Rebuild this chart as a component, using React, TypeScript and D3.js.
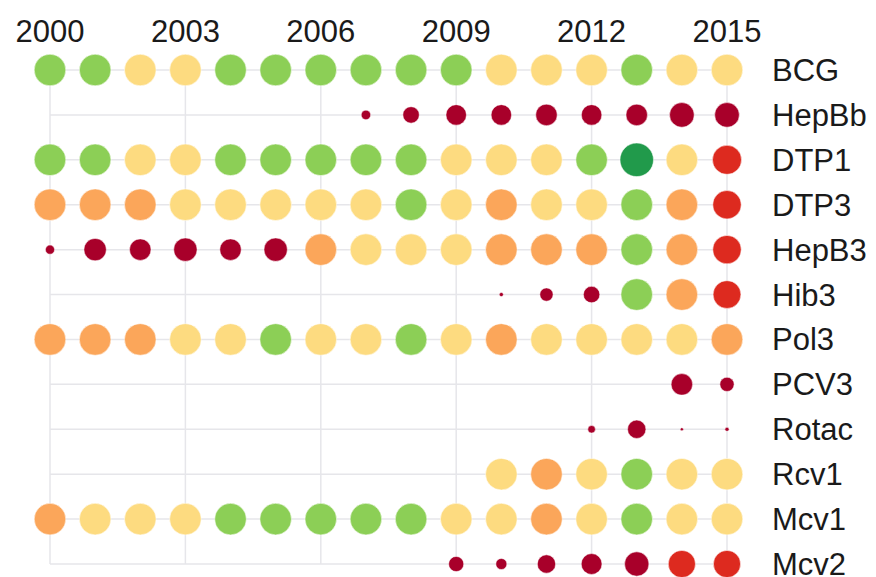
import React from "react";
import * as d3 from "d3";

const years = d3.range(2000, 2016);
const tickYears = [2000, 2003, 2006, 2009, 2012, 2015];
const vaccines = ["BCG", "HepBb", "DTP1", "DTP3", "HepB3", "Hib3", "Pol3", "PCV3", "Rotac", "Rcv1", "Mcv1", "Mcv2"];

// colour class per vaccine per year (2000..2015); "" = no data
const colorCodes: string[][] = [
  ["g", "g", "y", "y", "g", "g", "g", "g", "g", "g", "y", "y", "y", "g", "y", "y"],
  ["", "", "", "", "", "", "", "dr", "dr", "dr", "dr", "dr", "dr", "dr", "dr", "dr"],
  ["g", "g", "y", "y", "g", "g", "g", "g", "g", "y", "y", "y", "g", "G", "y", "r"],
  ["o", "o", "o", "y", "y", "y", "y", "y", "g", "y", "o", "y", "y", "g", "o", "r"],
  ["dr", "dr", "dr", "dr", "dr", "dr", "o", "y", "y", "y", "o", "o", "o", "g", "o", "r"],
  ["", "", "", "", "", "", "", "", "", "", "dr", "dr", "dr", "g", "o", "r"],
  ["o", "o", "o", "y", "y", "g", "y", "y", "g", "y", "o", "y", "y", "y", "y", "o"],
  ["", "", "", "", "", "", "", "", "", "", "", "", "", "", "dr", "dr"],
  ["", "", "", "", "", "", "", "", "", "", "", "", "dr", "dr", "dr", "dr"],
  ["", "", "", "", "", "", "", "", "", "", "y", "o", "y", "g", "y", "y"],
  ["o", "y", "y", "y", "g", "g", "g", "g", "g", "y", "y", "o", "y", "g", "y", "y"],
  ["", "", "", "", "", "", "", "", "", "dr", "dr", "dr", "dr", "dr", "r", "r"],
];

// relative circle size per vaccine per year; null = no data
const sizeValues: (number | null)[][] = [
  [100, 100, 100, 100, 100, 100, 100, 100, 100, 100, 100, 100, 100, 100, 100, 100],
  [null, null, null, null, null, null, null, 30, 52, 65, 65, 68, 65, 68, 78, 78],
  [100, 100, 100, 100, 100, 100, 100, 100, 100, 100, 100, 100, 100, 106, 100, 92],
  [100, 100, 100, 100, 100, 100, 100, 100, 100, 100, 100, 100, 100, 100, 100, 90],
  [29, 71, 68, 74, 68, 74, 100, 100, 100, 100, 100, 100, 100, 100, 100, 90],
  [null, null, null, null, null, null, null, null, null, null, 13, 42, 52, 100, 100, 88],
  [100, 100, 100, 100, 100, 100, 100, 100, 100, 100, 100, 100, 100, 100, 100, 100],
  [null, null, null, null, null, null, null, null, null, null, null, null, null, null, 68, 45],
  [null, null, null, null, null, null, null, null, null, null, null, null, 24, 58, 10, 13],
  [null, null, null, null, null, null, null, null, null, null, 100, 100, 100, 100, 100, 100],
  [100, 100, 100, 100, 100, 100, 100, 100, 100, 100, 100, 100, 100, 100, 100, 100],
  [null, null, null, null, null, null, null, null, null, 48, 35, 58, 66, 77, 86, 86],
];

const palette: Record<string, string> = {
  dr: "#a8002a",
  r: "#dd2a1f",
  o: "#fba65a",
  y: "#fddb80",
  g: "#8ccf56",
  G: "#219a4b",
};

const W = 876;
const H = 577;
const FONT = "'Liberation Sans', Arial, Helvetica, sans-serif";

export default function App() {
  const x = d3.scaleLinear().domain([2000, 2015]).range([50, 727]);
  const y = d3.scalePoint<string>().domain(vaccines).range([70, 564]);
  const r = d3.scaleLinear().domain([0, 100]).range([0, 15.8]);

  const cells: { key: string; cx: number; cy: number; rr: number; fill: string }[] = [];
  vaccines.forEach((v, i) => {
    years.forEach((yr, j) => {
      const s = sizeValues[i][j];
      const c = colorCodes[i][j];
      if (s == null || !c) return;
      cells.push({ key: `${v}-${yr}`, cx: x(yr), cy: y(v)!, rr: r(s), fill: palette[c] });
    });
  });

  return (
    <svg
      width={W}
      height={H}
      style={{ position: "absolute", left: 0, top: 0, background: "#fff" }}
    >
      <g>
        {tickYears.map((yr) => (
          <line
            key={"v" + yr}
            x1={x(yr)}
            x2={x(yr)}
            y1={y(vaccines[0])!}
            y2={y(vaccines[vaccines.length - 1])!}
            stroke="#e6e6ea"
            strokeWidth={1.5}
          />
        ))}
        {vaccines.map((v) => (
          <line
            key={"h" + v}
            x1={x(2000)}
            x2={x(2015)}
            y1={y(v)!}
            y2={y(v)!}
            stroke="#e6e6ea"
            strokeWidth={1.5}
          />
        ))}
      </g>
      <g>
        {cells.map((c) => (
          <circle
            key={c.key}
            cx={c.cx}
            cy={c.cy}
            r={c.rr}
            fill={c.fill}
            stroke="#ffffff"
            strokeOpacity={0.5}
            strokeWidth={1}
          />
        ))}
      </g>
      <g fontFamily={FONT} fontSize={31} fill="#1a1a1a">
        {tickYears.map((yr) => (
          <text key={"t" + yr} x={x(yr)} y={42} textAnchor="middle">
            {yr}
          </text>
        ))}
        {vaccines.map((v) => (
          <text key={"l" + v} x={772} y={y(v)! + 11}>
            {v}
          </text>
        ))}
      </g>
    </svg>
  );
}
